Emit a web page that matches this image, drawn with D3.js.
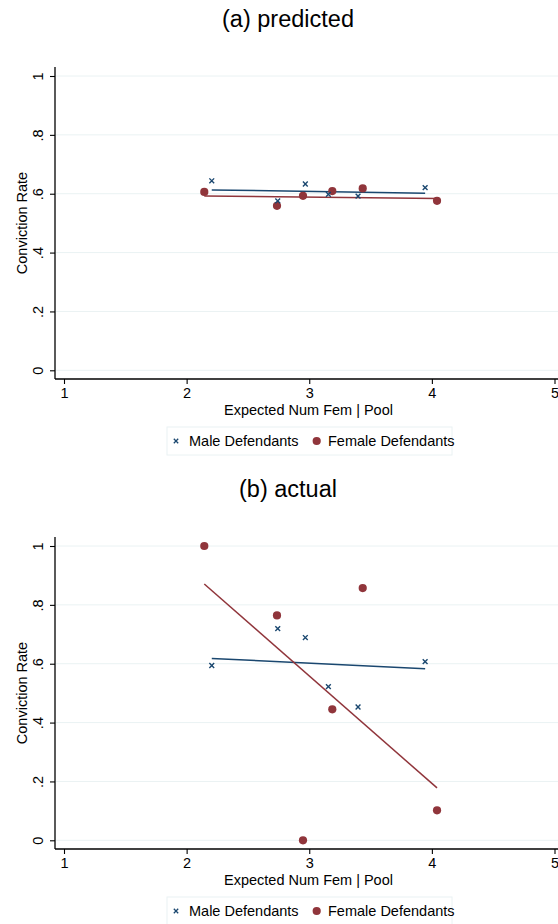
<!DOCTYPE html>
<html>
<head>
<meta charset="utf-8">
<script src="https://cdn.jsdelivr.net/npm/d3@7"></script>
<style>
  body { margin: 0; background: #fff; }
  svg { display: block; }
  text { font-family: "Liberation Sans", Arial, Helvetica, sans-serif; fill: #000; }
</style>
</head>
<body>
<svg id="chart" width="558" height="924"></svg>
<script>
// Axis ticks
const xTicks = [1, 2, 3, 4, 5];
const yTicks = [0, 0.2, 0.4, 0.6, 0.8, 1];
const yTickLabels = ["0", ".2", ".4", ".6", ".8", "1"];

// Expected number of women in the pool (x) for each group
const maleX   = [2.205, 2.743, 2.968, 3.156, 3.398, 3.945];
const femaleX = [2.144, 2.737, 2.949, 3.188, 3.436, 4.042];

// Conviction rates
const malePredicted   = [0.644, 0.576, 0.633, 0.598, 0.592, 0.621];
const femalePredicted = [0.606, 0.559, 0.593, 0.609, 0.618, 0.576];
const maleActual      = [0.594, 0.719, 0.689, 0.522, 0.453, 0.607];
const femaleActual    = [1.000, 0.764, 0.000, 0.445, 0.857, 0.102];

// Linear fits: fitted value at the smallest and largest x of each group
const maleFitPredicted   = [0.613, 0.602];
const femaleFitPredicted = [0.592, 0.584];
const maleFitActual      = [0.618, 0.583];
const femaleFitActual    = [0.871, 0.178];

const panelTitles = ["(a) predicted", "(b) actual"];
const xTitle = "Expected Num Fem | Pool";
const yTitle = "Conviction Rate";
const legendLabels = ["Male Defendants", "Female Defendants"];

const NAVY = "#1a476f", MAROON = "#90353b", GRID = "#eaf2f3", AXIS = "#000";
const FS = 14.5;

const svg = d3.select("#chart");
const x = d3.scaleLinear().domain([1, 5]).range([64, 554.5]);

function panel(off, title, mY, fY, mFit, fFit) {
  const g = svg.append("g").attr("transform", `translate(0,${off})`);
  const y = d3.scaleLinear().domain([0, 1]).range([370.3, 76]);
  const plotTop = 67, axisY = 379, axisX = 55, plotRight = 558;

  g.append("text").attr("x", 288).attr("y", 26.5).attr("text-anchor", "middle")
    .style("font-size", "23.5px").text(title);

  // grid
  g.append("g").selectAll("line").data(yTicks).join("line")
    .attr("x1", axisX + 1).attr("x2", plotRight)
    .attr("y1", d => y(d)).attr("y2", d => y(d))
    .attr("stroke", GRID).attr("stroke-width", 1);

  // y axis
  const ya = g.append("g").attr("transform", `translate(${axisX},0)`)
    .call(d3.axisLeft(y).tickValues(yTicks).tickSize(5).tickPadding(0)
      .tickFormat((d, i) => yTickLabels[i]));
  ya.select(".domain").attr("d", `M0,${plotTop}V${axisY}`).attr("stroke", AXIS).attr("stroke-width", 1.3);
  ya.selectAll(".tick line").attr("stroke", AXIS).attr("stroke-width", 1.1);
  ya.selectAll(".tick text")
    .attr("x", null).attr("dy", null).attr("y", null)
    .attr("text-anchor", "middle")
    .attr("transform", "translate(-12,0) rotate(-90)")
    .style("font-size", FS + "px").style("font-family", null).attr("fill", "#000");

  // x axis
  const xa = g.append("g").attr("transform", `translate(0,${axisY})`)
    .call(d3.axisBottom(x).tickValues(xTicks).tickSize(5).tickPadding(3)
      .tickFormat(d3.format("d")));
  xa.select(".domain").attr("d", `M${axisX},0H${plotRight}`).attr("stroke", AXIS).attr("stroke-width", 1.3);
  xa.selectAll(".tick line").attr("stroke", AXIS).attr("stroke-width", 1.1);
  xa.selectAll(".tick text").attr("dy", null).attr("y", 19)
    .style("font-size", FS + "px").style("font-family", null).attr("fill", "#000");
  svg.selectAll(".tick text").attr("font-family", null).attr("font-size", null);
  ya.attr("font-family", null).attr("font-size", null);
  xa.attr("font-family", null).attr("font-size", null);

  // axis titles
  g.append("text").attr("x", 308.5).attr("y", 415).attr("text-anchor", "middle")
    .style("font-size", FS + "px").text(xTitle);
  g.append("text").attr("transform", `translate(26.5,${(plotTop + axisY) / 2}) rotate(-90)`)
    .attr("text-anchor", "middle").style("font-size", FS + "px").text(yTitle);

  // fitted lines
  const line = d3.line().x(d => x(d[0])).y(d => y(d[1]));
  const mxExt = d3.extent(maleX), fxExt = d3.extent(femaleX);
  g.append("path").attr("d", line([[mxExt[0], mFit[0]], [mxExt[1], mFit[1]]]))
    .attr("stroke", NAVY).attr("stroke-width", 1.5).attr("fill", "none");
  g.append("path").attr("d", line([[fxExt[0], fFit[0]], [fxExt[1], fFit[1]]]))
    .attr("stroke", MAROON).attr("stroke-width", 1.5).attr("fill", "none");

  // female markers (solid circles)
  g.append("g").selectAll("circle").data(femaleX.map((v, i) => [v, fY[i]])).join("circle")
    .attr("cx", d => x(d[0])).attr("cy", d => y(d[1])).attr("r", 4.1).attr("fill", MAROON);

  // male markers (x)
  const s = 2.4;
  g.append("g").selectAll("path").data(maleX.map((v, i) => [v, mY[i]])).join("path")
    .attr("d", d => {
      const cx = x(d[0]), cy = y(d[1]);
      return `M${cx - s},${cy - s}L${cx + s},${cy + s}M${cx - s},${cy + s}L${cx + s},${cy - s}`;
    })
    .attr("stroke", NAVY).attr("stroke-width", 1.4).attr("fill", "none");

  // legend
  const lg = g.append("g").attr("transform", "translate(167,427)");
  lg.append("rect").attr("x", 0).attr("y", 0).attr("width", 285).attr("height", 28)
    .attr("fill", "#fff").attr("stroke", GRID).attr("stroke-width", 1);
  const ly = 14;
  const ms = 2.2;
  lg.append("path")
    .attr("d", `M${9 - ms},${ly - ms}L${9 + ms},${ly + ms}M${9 - ms},${ly + ms}L${9 + ms},${ly - ms}`)
    .attr("stroke", NAVY).attr("stroke-width", 1.3);
  lg.append("text").attr("x", 22).attr("y", ly).attr("dy", "0.36em")
    .style("font-size", FS + "px").text(legendLabels[0]);
  lg.append("circle").attr("cx", 149.7).attr("cy", ly).attr("r", 4.1).attr("fill", MAROON);
  lg.append("text").attr("x", 161).attr("y", ly).attr("dy", "0.36em")
    .style("font-size", FS + "px").text(legendLabels[1]);
}

panel(0, panelTitles[0], malePredicted, femalePredicted, maleFitPredicted, femaleFitPredicted);
panel(470, panelTitles[1], maleActual, femaleActual, maleFitActual, femaleFitActual);
</script>
</body>
</html>
